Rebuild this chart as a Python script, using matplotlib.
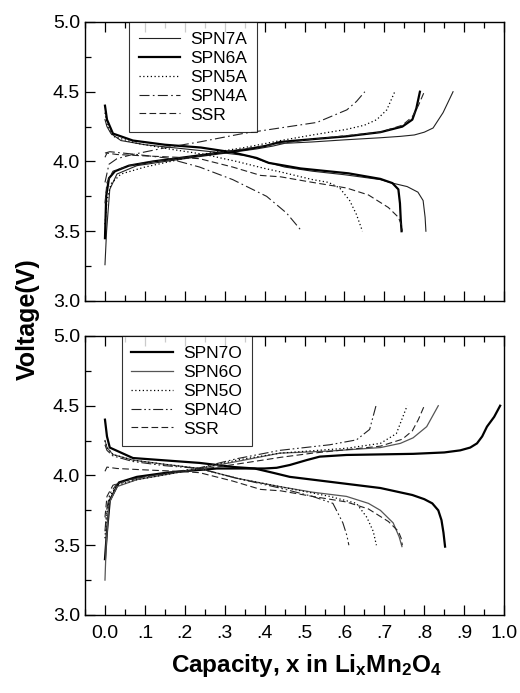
import matplotlib
matplotlib.use("Agg")
import matplotlib.pyplot as plt
from matplotlib.ticker import MultipleLocator, FuncFormatter

plt.rcParams['font.family'] = ['Liberation Sans', 'DejaVu Sans']
plt.rcParams['mathtext.fontset'] = 'custom'
plt.rcParams['mathtext.rm'] = 'Liberation Sans:bold'
plt.rcParams['mathtext.it'] = 'Liberation Sans:bold'
plt.rcParams['mathtext.bf'] = 'Liberation Sans:bold'

# ---- top panel (A samples) ----
spn7a_chg_x = [0.0, 0.004, 0.012, 0.03, 0.08, 0.15, 0.25, 0.33, 0.38, 0.42, 0.45, 0.52, 0.6, 0.69, 0.74, 0.775, 0.80, 0.822, 0.847, 0.872]
spn7a_chg_v = [3.26, 3.5, 3.8, 3.91, 3.97, 4.0, 4.04, 4.07, 4.09, 4.11, 4.13, 4.14, 4.155, 4.17, 4.18, 4.19, 4.21, 4.24, 4.35, 4.5]
spn7a_dis_x = [0.0, 0.005, 0.015, 0.04, 0.1, 0.2, 0.3, 0.36, 0.40, 0.45, 0.52, 0.6, 0.69, 0.72, 0.757, 0.784, 0.797, 0.802, 0.804]
spn7a_dis_v = [4.3, 4.25, 4.2, 4.15, 4.12, 4.09, 4.06, 4.04, 4.0, 3.96, 3.93, 3.905, 3.87, 3.845, 3.82, 3.78, 3.72, 3.6, 3.5]

spn6a_chg_x = [0.0, 0.003, 0.01, 0.025, 0.06, 0.12, 0.2, 0.28, 0.35, 0.40, 0.44, 0.52, 0.605, 0.69, 0.745, 0.77, 0.78, 0.789]
spn6a_chg_v = [3.45, 3.75, 3.88, 3.93, 3.97, 4.0, 4.03, 4.06, 4.085, 4.11, 4.14, 4.16, 4.18, 4.21, 4.25, 4.30, 4.38, 4.5]
spn6a_dis_x = [0.0, 0.005, 0.02, 0.07, 0.15, 0.24, 0.32, 0.38, 0.41, 0.49, 0.61, 0.69, 0.72, 0.735, 0.739, 0.741, 0.743]
spn6a_dis_v = [4.4, 4.3, 4.2, 4.15, 4.12, 4.10, 4.065, 4.025, 3.99, 3.95, 3.915, 3.875, 3.845, 3.80, 3.70, 3.58, 3.5]

spn5a_chg_x = [0.0, 0.005, 0.015, 0.04, 0.1, 0.18, 0.26, 0.35, 0.44, 0.52, 0.605, 0.65, 0.681, 0.706, 0.726]
spn5a_chg_v = [3.55, 3.72, 3.84, 3.91, 3.96, 4.01, 4.06, 4.10, 4.15, 4.19, 4.23, 4.26, 4.30, 4.37, 4.5]
spn5a_dis_x = [0.0, 0.005, 0.02, 0.08, 0.16, 0.25, 0.33, 0.40, 0.44, 0.52, 0.56, 0.588, 0.613, 0.63, 0.645]
spn5a_dis_v = [4.35, 4.27, 4.18, 4.13, 4.09, 4.05, 4.0, 3.95, 3.925, 3.87, 3.85, 3.81, 3.72, 3.62, 3.5]

spn4a_chg_x = [0.0, 0.01, 0.03, 0.069, 0.154, 0.237, 0.345, 0.438, 0.531, 0.606, 0.63, 0.651]
spn4a_chg_v = [3.85, 3.98, 4.02, 4.05, 4.10, 4.14, 4.20, 4.24, 4.28, 4.37, 4.43, 4.5]
spn4a_dis_x = [0.0, 0.012, 0.08, 0.154, 0.237, 0.32, 0.405, 0.455, 0.493]
spn4a_dis_v = [4.06, 4.07, 4.05, 4.025, 3.96, 3.87, 3.75, 3.63, 3.5]

# SSR reference, same curve in both panels
ssr_chg_x = [0.0, 0.005, 0.02, 0.06, 0.12, 0.2, 0.28, 0.35, 0.44, 0.52, 0.605, 0.69, 0.745, 0.77, 0.785, 0.80]
ssr_chg_v = [3.7, 3.85, 3.93, 3.97, 4.0, 4.03, 4.06, 4.09, 4.13, 4.16, 4.185, 4.21, 4.26, 4.32, 4.40, 4.5]
ssr_dis_x = [0.0, 0.005, 0.03, 0.1, 0.18, 0.237, 0.32, 0.39, 0.44, 0.52, 0.605, 0.66, 0.71, 0.735, 0.742, 0.745]
ssr_dis_v = [4.03, 4.06, 4.05, 4.04, 4.03, 4.02, 3.96, 3.90, 3.89, 3.85, 3.81, 3.76, 3.67, 3.60, 3.55, 3.5]

# ---- bottom panel (O samples) ----
spn7o_chg_x = [0.0, 0.005, 0.012, 0.035, 0.08, 0.155, 0.28, 0.40, 0.43, 0.463, 0.505, 0.538, 0.605, 0.772, 0.85, 0.89, 0.915, 0.932, 0.945, 0.957, 0.975, 0.99]
spn7o_chg_v = [3.40, 3.6, 3.82, 3.95, 3.99, 4.02, 4.05, 4.05, 4.055, 4.075, 4.11, 4.135, 4.147, 4.155, 4.165, 4.18, 4.20, 4.23, 4.28, 4.35, 4.42, 4.5]
spn7o_dis_x = [0.0, 0.005, 0.012, 0.07, 0.237, 0.325, 0.375, 0.42, 0.463, 0.52, 0.69, 0.77, 0.80, 0.82, 0.835, 0.843, 0.848, 0.852]
spn7o_dis_v = [4.40, 4.28, 4.20, 4.125, 4.09, 4.06, 4.05, 4.02, 3.99, 3.97, 3.91, 3.86, 3.83, 3.80, 3.75, 3.68, 3.59, 3.49]

spn6o_chg_x = [0.0, 0.003, 0.01, 0.03, 0.08, 0.16, 0.237, 0.33, 0.438, 0.563, 0.69, 0.74, 0.772, 0.806, 0.835]
spn6o_chg_v = [3.25, 3.5, 3.8, 3.92, 3.97, 4.01, 4.05, 4.10, 4.16, 4.175, 4.20, 4.23, 4.27, 4.35, 4.5]
spn6o_dis_x = [0.0, 0.005, 0.02, 0.07, 0.15, 0.237, 0.33, 0.438, 0.52, 0.605, 0.66, 0.69, 0.722, 0.737, 0.744]
spn6o_dis_v = [4.25, 4.20, 4.15, 4.11, 4.08, 4.05, 3.98, 3.92, 3.88, 3.85, 3.80, 3.75, 3.66, 3.56, 3.49]

spn5o_chg_x = [0.0, 0.004, 0.012, 0.03, 0.08, 0.16, 0.237, 0.33, 0.438, 0.605, 0.69, 0.73, 0.757]
spn5o_chg_v = [3.55, 3.72, 3.85, 3.93, 3.97, 4.01, 4.05, 4.11, 4.16, 4.195, 4.23, 4.30, 4.5]
spn5o_dis_x = [0.0, 0.005, 0.02, 0.07, 0.15, 0.237, 0.33, 0.438, 0.563, 0.63, 0.656, 0.672, 0.68]
spn5o_dis_v = [4.25, 4.2, 4.15, 4.11, 4.08, 4.05, 3.98, 3.92, 3.85, 3.80, 3.70, 3.6, 3.5]

spn4o_chg_x = [0.0, 0.004, 0.012, 0.03, 0.08, 0.16, 0.237, 0.33, 0.438, 0.563, 0.63, 0.663, 0.679]
spn4o_chg_v = [3.6, 3.75, 3.87, 3.94, 3.98, 4.02, 4.055, 4.12, 4.18, 4.22, 4.255, 4.33, 4.5]
spn4o_dis_x = [0.0, 0.005, 0.02, 0.07, 0.15, 0.237, 0.33, 0.438, 0.52, 0.571, 0.596, 0.606, 0.611]
spn4o_dis_v = [4.22, 4.18, 4.14, 4.10, 4.07, 4.05, 3.98, 3.91, 3.85, 3.80, 3.66, 3.57, 3.5]

x_tick_labels = ['0.0', '.1', '.2', '.3', '.4', '.5', '.6', '.7', '.8', '.9', '1.0']

# line styles
thin = dict(color='#222222', lw=0.8)
thick = dict(color='black', lw=1.6)
dotted = dict(color='black', lw=0.9, linestyle=(0, (1, 2)))
dashdot = dict(color='#222222', lw=0.8, linestyle=(0, (9, 3, 1.5, 3)))
dashdotdot = dict(color='#222222', lw=0.8, linestyle=(0, (9, 2.5, 1.5, 2.5, 1.5, 2.5)))
dashed = dict(color='#222222', lw=0.8, linestyle=(0, (6, 3)))


def draw(ax, cx, cv, dx, dv, style, label):
    ax.plot(cx, cv, label=label, **style)
    ax.plot(dx, dv, **style)


def style_axes(ax, show_xlabels):
    ax.set_xlim(-0.05, 1.0)
    ax.set_ylim(3.0, 5.0)
    ax.xaxis.set_major_locator(MultipleLocator(0.1))
    ax.xaxis.set_minor_locator(MultipleLocator(0.05))
    ax.yaxis.set_major_locator(MultipleLocator(0.5))
    ax.yaxis.set_minor_locator(MultipleLocator(0.25))
    ax.yaxis.set_major_formatter(FuncFormatter(lambda v, p: f'{v:.1f}'))
    ax.tick_params(which='both', direction='in', top=True, right=False, labelsize=14, width=0.9)
    ax.tick_params(which='major', length=7)
    ax.tick_params(which='minor', length=4)
    ax.set_xticks([i / 10 for i in range(11)])
    if show_xlabels:
        ax.set_xticklabels(x_tick_labels)
        ax.tick_params(axis='x', pad=7)
    else:
        ax.tick_params(axis='x', labelbottom=False)
    for s in ax.spines.values():
        s.set_linewidth(1.0)


fig = plt.figure(figsize=(5.2, 6.93), dpi=100)
ax1 = fig.add_axes([0.1635, 0.5657, 0.806, 0.4026])
ax2 = fig.add_axes([0.1635, 0.1126, 0.806, 0.4026])

draw(ax1, spn7a_chg_x, spn7a_chg_v, spn7a_dis_x, spn7a_dis_v, thin, 'SPN7A')
draw(ax1, spn6a_chg_x, spn6a_chg_v, spn6a_dis_x, spn6a_dis_v, thick, 'SPN6A')
draw(ax1, spn5a_chg_x, spn5a_chg_v, spn5a_dis_x, spn5a_dis_v, dotted, 'SPN5A')
draw(ax1, spn4a_chg_x, spn4a_chg_v, spn4a_dis_x, spn4a_dis_v, dashdot, 'SPN4A')
draw(ax1, ssr_chg_x, ssr_chg_v, ssr_dis_x, ssr_dis_v, dashed, 'SSR')

draw(ax2, spn7o_chg_x, spn7o_chg_v, spn7o_dis_x, spn7o_dis_v, thick, 'SPN7O')
draw(ax2, spn6o_chg_x, spn6o_chg_v, spn6o_dis_x, spn6o_dis_v, dict(color='#555555', lw=0.9), 'SPN6O')
draw(ax2, spn5o_chg_x, spn5o_chg_v, spn5o_dis_x, spn5o_dis_v, dotted, 'SPN5O')
draw(ax2, spn4o_chg_x, spn4o_chg_v, spn4o_dis_x, spn4o_dis_v, dashdotdot, 'SPN4O')
draw(ax2, ssr_chg_x, ssr_chg_v, ssr_dis_x, ssr_dis_v, dashed, 'SSR')

style_axes(ax1, False)
style_axes(ax2, True)

for ax, anchor in ((ax1, 0.105), (ax2, 0.088)):
    leg = ax.legend(loc='upper left', bbox_to_anchor=(anchor, 1.0), borderaxespad=0,
                    fontsize=12.5, frameon=True, fancybox=False, handlelength=2.4,
                    handletextpad=0.6, labelspacing=0.22, borderpad=0.55)
    leg.get_frame().set_edgecolor('black')
    leg.get_frame().set_linewidth(0.8)

fig.text(0.054, 0.54, 'Voltage(V)', rotation=90, ha='center', va='center',
         fontsize=18, fontweight='bold')
fig.text(0.59, 0.04, r'Capacity, x in Li$_\mathrm{x}$Mn$_\mathrm{2}$O$_\mathrm{4}$',
         ha='center', va='center', fontsize=17.5, fontweight='bold')

fig.savefig('out.png', dpi=100)
